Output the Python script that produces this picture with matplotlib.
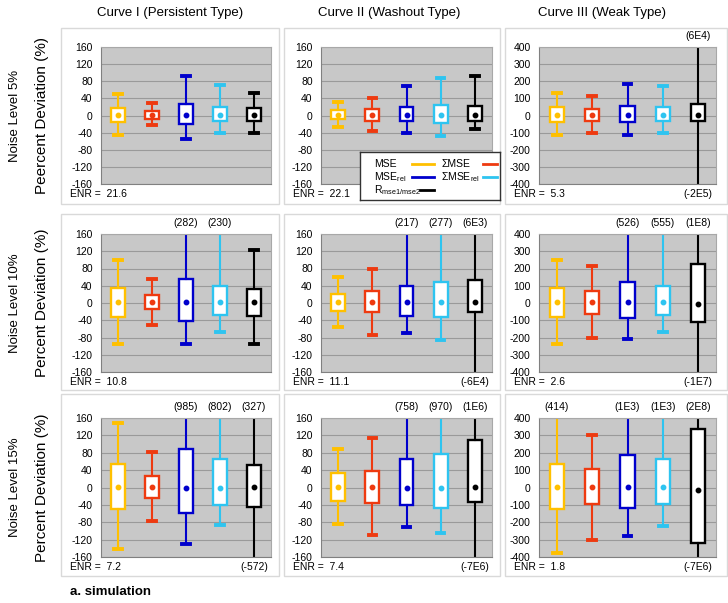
import numpy as np
import matplotlib
matplotlib.use('Agg')
import matplotlib.pyplot as plt
from matplotlib.patches import Rectangle

plt.rcParams['font.family'] = ['Liberation Sans', 'DejaVu Sans']
plt.rcParams['mathtext.fontset'] = 'custom'
plt.rcParams['mathtext.rm'] = 'Liberation Sans'
plt.rcParams['axes.unicode_minus'] = False

curves = ['Curve I (Persistent Type)', 'Curve II (Washout Type)', 'Curve III (Weak Type)']
noise_levels = ['Noise Level 5%', 'Noise Level 10%', 'Noise Level 15%']
ylabels = ['Peercent Deviation (%)', 'Percent Deviation (%)', 'Percent Deviation (%)']
series = ['MSE', 'ΣMSE', r'MSE$_{\rm rel}$', r'ΣMSE$_{\rm rel}$', r'R$_{\rm mse1/mse2}$']
colors = ['#FFC000', '#EE3A10', '#0000CC', '#2EC4F0', '#000000']

enr = [[21.6, 22.1, 5.3], [10.8, 11.1, 2.6], [7.2, 7.4, 1.8]]

# [noise level][curve][series]
whisker_low = [
    [[-45, -23, -55, -40, -42], [-27, -37, -40, -48, -32], [-112, -100, -115, -100, -2e5]],
    [[-95, -50, -95, -68, -95], [-55, -75, -70, -85, -6e4], [-235, -205, -210, -170, -1e7]],
    [[-142, -78, -130, -87, -572], [-85, -110, -90, -105, -7e6], [-375, -305, -280, -220, -7e6]],
]
q1 = [
    [[-15, -8, -20, -14, -14], [-8, -12, -14, -17, -14], [-40, -30, -40, -35, -35]],
    [[-32, -15, -42, -28, -30], [-18, -22, -30, -33, -22], [-80, -65, -88, -70, -110]],
    [[-50, -25, -58, -40, -45], [-30, -35, -40, -48, -33], [-125, -95, -120, -95, -320]],
]
median = [
    [[2, 2, 2, 2, 2], [1, 2, 2, 2, 2], [5, 5, 5, 5, 5]],
    [[2, 2, 2, 2, 2], [2, 2, 2, 2, 2], [5, 5, 5, 5, -3]],
    [[2, 2, -2, -2, 2], [2, 2, -2, -2, 2], [5, 5, 5, 5, -15]],
]
q3 = [
    [[18, 10, 27, 21, 18], [12, 16, 20, 24, 22], [50, 40, 55, 50, 70]],
    [[35, 18, 55, 40, 33], [22, 27, 40, 48, 53], [88, 72, 120, 100, 225]],
    [[53, 27, 88, 65, 52], [33, 38, 65, 78, 110], [135, 105, 185, 165, 335]],
]
whisker_high = [
    [[50, 30, 93, 72, 52], [32, 40, 70, 88, 93], [130, 112, 185, 172, 6e4]],
    [[100, 55, 282, 230, 122], [60, 80, 217, 277, 6e3], [250, 215, 526, 555, 1e8]],
    [[148, 82, 985, 802, 327], [88, 115, 758, 970, 1e6], [414, 300, 1e3, 1e3, 2e8]],
]

W, H = 728, 603
# pixel layout of the panels
col_gray = [(101, 271), (321, 492), (539, 716)]
col_outer = [(61, 279), (284, 500), (505, 727)]
row_gray = [(47, 184), (234, 372), (418, 557)]
row_outer = [(28, 204), (214, 390), (394, 576)]
title_x = [170, 389, 602]


def px_rect(x0, x1, y0, y1):
    return [x0 / W, 1 - y1 / H, (x1 - x0) / W, (y1 - y0) / H]


def fmt_value(v):
    if abs(v) < 1000:
        return '(%d)' % v
    e = int(np.floor(np.log10(abs(v))))
    m = int(round(v / 10 ** e))
    return '(%dE%d)' % (m, e)


fig = plt.figure(figsize=(W / 100, H / 100), dpi=100)

for r in range(3):
    for c in range(3):
        x0, x1 = col_outer[c]
        y0, y1 = row_outer[r]
        fig.add_artist(Rectangle((x0 / W, 1 - y1 / H), (x1 - x0) / W, (y1 - y0) / H,
                                 transform=fig.transFigure, fill=False, ec='#D9D9D9', lw=1))

        gx0, gx1 = col_gray[c]
        gy0, gy1 = row_gray[r]
        ax = fig.add_axes(px_rect(gx0, gx1, gy0, gy1))
        ax.set_facecolor('#C8C8C8')
        lim = 400 if c == 2 else 160
        step = 100 if c == 2 else 40

        for i in range(5):
            col = colors[i]
            lo = whisker_low[r][c][i]
            hi = whisker_high[r][c][i]
            med = median[r][c][i]
            stats = [dict(whislo=lo, q1=q1[r][c][i], med=med, q3=q3[r][c][i], whishi=hi, fliers=[])]
            ax.bxp(stats, positions=[i + 1], widths=0.4, capwidths=0.22, patch_artist=True,
                   showfliers=False, manage_ticks=False,
                   boxprops=dict(facecolor='white', edgecolor=col, linewidth=1.7),
                   whiskerprops=dict(color=col, linewidth=1.5),
                   capprops=dict(color=col, linewidth=2.8),
                   medianprops=dict(visible=False))
            ax.plot(i + 1, med, 'o', color=col, ms=3.2, zorder=5)

            # values that fall outside the axis range
            if hi > lim:
                ax.annotate(fmt_value(hi), xy=(i + 1, lim), xytext=(0, 4), textcoords='offset points',
                            ha='center', va='bottom', fontsize=7.5, annotation_clip=False)
            if lo < -lim:
                ax.annotate(fmt_value(lo), xy=(i + 1, -lim), xytext=(0, -3.5), textcoords='offset points',
                            ha='center', va='top', fontsize=7.5, annotation_clip=False)

        ax.set_ylim(-lim, lim)
        ax.set_xlim(0.5, 5.5)
        ax.set_yticks(np.arange(-lim, lim + 1, step))
        ax.set_xticks([])
        ax.tick_params(axis='y', length=0, pad=6, labelsize=7.5)
        ax.grid(axis='y', color='#9A9A9A', lw=0.8)
        ax.set_axisbelow(True)
        for s in ['left', 'bottom']:
            ax.spines[s].set_color('#808080')
        for s in ['top', 'right']:
            ax.spines[s].set_color('#A8A8A8')

        fig.text((x0 + 9) / W, 1 - (gy1 + 10) / H, 'ENR =  %.1f' % enr[r][c],
                 ha='left', va='center', fontsize=7.5)

    yc = 1 - (row_gray[r][0] + row_gray[r][1]) / 2 / H
    fig.text(15 / W, yc, noise_levels[r], rotation=90, ha='center', va='center', fontsize=9.5)
    fig.text(42 / W, yc, ylabels[r], rotation=90, ha='center', va='center', fontsize=11)

for c in range(3):
    fig.text(title_x[c] / W, 1 - 13 / H, curves[c], ha='center', va='center', fontsize=9.5)

fig.text(70 / W, 1 - 592 / H, 'a. simulation', ha='left', va='center', fontsize=9.5, fontweight='bold')

# legend box drawn by hand
lg = fig.add_axes(px_rect(360, 500, 152, 200), zorder=10)
lg.set_xlim(0, 140)
lg.set_ylim(48, 0)
lg.set_xticks([])
lg.set_yticks([])
lg.set_facecolor('white')
for s in lg.spines.values():
    s.set_color('#333333')
    s.set_linewidth(1)
legend_pos = [(14, 12, 52, 74), (81, 12, 123, 137), (14, 25, 52, 74), (81, 25, 123, 137), (14, 38, 60, 74)]
for i in range(5):
    tx, ty, l0, l1 = legend_pos[i]
    lg.text(tx, ty, series[i], ha='left', va='center', fontsize=7.5)
    lg.plot([l0, l1], [ty, ty], color=colors[i], lw=2)

fig.savefig('out.png', dpi=100)
